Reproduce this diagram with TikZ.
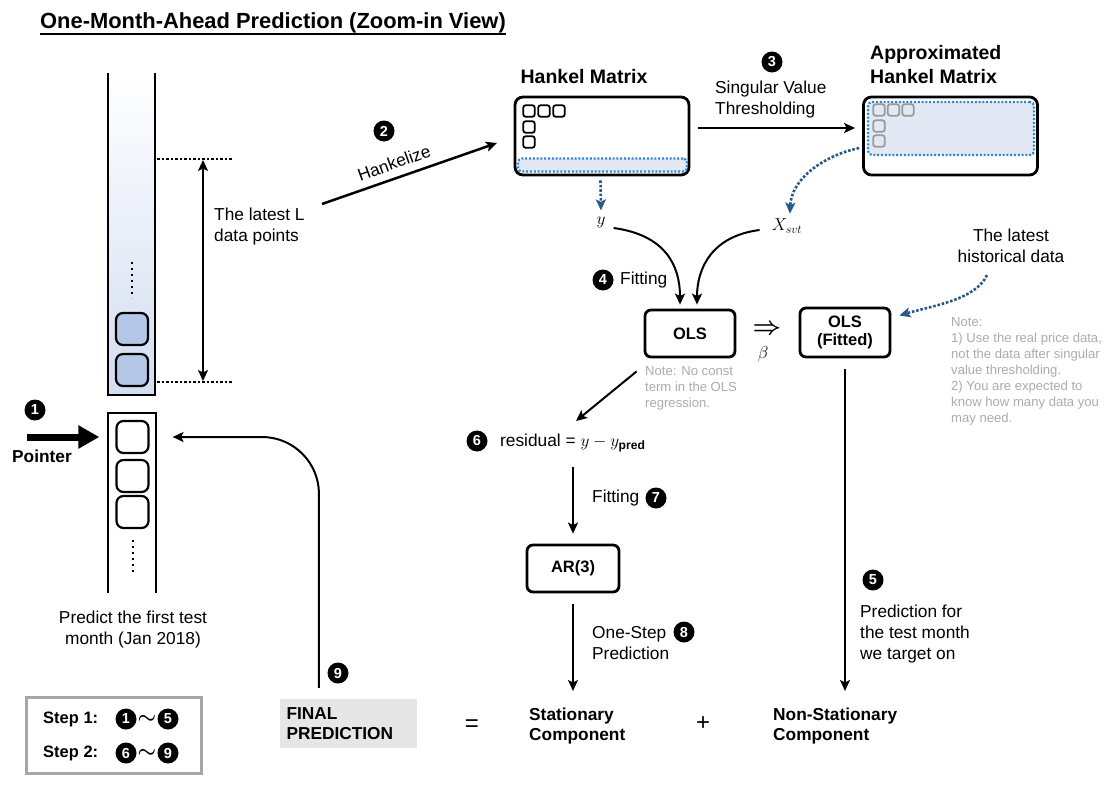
\documentclass[tikz,border=0pt]{standalone}
\usepackage{fontspec}
\setmainfont{Liberation Sans}
\usepackage{amsmath}
\usetikzlibrary{positioning}
\usetikzlibrary{calc}
\usetikzlibrary{arrows.meta}

\definecolor{cellblue}{HTML}{B4C7E7}
\definecolor{paleblue}{HTML}{E2E9F5}
\definecolor{colblue}{HTML}{D3DDF1}
\definecolor{dotblue}{HTML}{3584D0}
\definecolor{flowblue}{HTML}{2A5886}
\definecolor{notegray}{HTML}{ABABAB}
\definecolor{entrygray}{HTML}{9A9A9A}
\definecolor{finalgray}{HTML}{E6E6E6}
\definecolor{stepgray}{HTML}{A6A6A6}

\tikzset{
  num/.style={circle, fill=black, text=white, inner sep=0pt, minimum size=21pt,
    font=\fontsize{14.5}{14.5}\selectfont\bfseries},
  txt/.style={inner sep=0pt, font=\fontsize{17.3}{21}\selectfont},
  bold/.style={inner sep=0pt, font=\fontsize{17.3}{20}\selectfont\bfseries},
  heading/.style={inner sep=0pt, font=\fontsize{19.5}{24}\selectfont\bfseries},
  note/.style={inner sep=0pt, align=left, text=notegray, font=\fontsize{13.1}{16}\selectfont},
  hankelbox/.style={draw, line width=2.8pt, rounded corners=8pt, minimum width=174pt, minimum height=78pt},
  model/.style={draw, line width=2.8pt, rounded corners=6pt, minimum width=90pt, minimum height=47pt,
    align=center, font=\fontsize{16.5}{18}\selectfont\bfseries},
  cell/.style={draw, line width=2.2pt, rounded corners=7pt, minimum size=32pt, inner sep=0pt},
  hcell/.style={draw, line width=1.8pt, rounded corners=2.5pt, minimum size=11.5pt, inner sep=0pt},
  band/.style={draw=dotblue, fill=paleblue, line width=2.2pt, dash pattern=on 2pt off 1.8pt, rounded corners=4pt},
  flow/.style={line width=2pt, -{Stealth[length=11pt, width=10pt, inset=2.5pt]}},
  blueflow/.style={flowblue, line width=2.6pt, dash pattern=on 2.6pt off 1.8pt,
    -{Stealth[length=11pt, width=10pt, inset=2.5pt]}},
  tilde/.style={inner sep=0pt, font=\fontsize{22}{22}\selectfont},
}

\begin{document}
\begin{tikzpicture}[x=1pt, y=-1pt]
  \useasboundingbox (0,0) rectangle (1111,790);

  % Title
  \node[anchor=base west, inner sep=0pt, font=\fontsize{21.9}{24}\selectfont\bfseries] (title) at (40,28)
    {One-Month-Ahead Prediction (Zoom-in View)};
  \draw[line width=1.8pt] ($(title.base west)+(0,6)$) -- ($(title.base east)+(0,6)$);

  % Latest L points
  \shade[top color=white, bottom color=colblue] (108,73) rectangle (155,395);
  \draw[line width=2.8pt] (108,73) -- (108,395) -- (155,395) -- (155,73);
  \node[cell, fill=cellblue] (w1) at (132,329) {};
  \node[cell, fill=cellblue] (w2) at (132,370) {};
  \draw[line width=2pt, dash pattern=on 2pt off 4pt] (132,262) -- (132,298);

  \coordinate (ltop) at (157,159);
  \coordinate (lbot) at (157,382);
  \draw[line width=2.2pt, dash pattern=on 2.5pt off 2pt] (ltop) -- ++(75,0);
  \draw[line width=2.2pt, dash pattern=on 2.5pt off 2pt] (lbot) -- ++(75,0);
  \coordinate (spantop) at (203,160);
  \coordinate (spanbot) at (203,381);
  \draw[line width=2pt, {Stealth[length=11pt, width=10pt, inset=2.5pt]}-{Stealth[length=11pt, width=10pt, inset=2.5pt]}]
    (spantop) -- (spanbot);
  \node[txt, anchor=north west, align=left] (latest) at (214,208) {The latest L\\data points};

  % Test column
  \draw[line width=2.8pt] (108,593) -- (108,413) -- (156,413) -- (156,593);
  \node[cell] (t1) at (132.5,437) {};
  \node[cell] (t2) at (132.5,476) {};
  \node[cell] (t3) at (132.5,512) {};
  \draw[line width=2pt, dash pattern=on 2pt off 4pt] (133,540) -- (133,575);
  \node[txt, anchor=north, align=center] (predfirst) at (133,611) {Predict the first test\\month (Jan 2018)};

  % Pointer
  \node[num] (n1) at (35,410) {1};
  \coordinate (ptrtail) at (27,437);
  \draw[line width=7pt, -{Triangle[length=21pt, width=22pt]}] (ptrtail) -- ($(t1.west)+(-16,0)$);
  \node[bold, anchor=north west] (ptr) at (12,450) {Pointer};

  % Hankelize
  \coordinate (hkfrom) at (322,204);
  \coordinate (hkto) at (497,143);
  \draw[flow, line width=2.5pt] (hkfrom) -- (hkto);
  \node[num] (n2) at (384,131) {2};
  \node[txt, rotate=20] (hklabel) at (394,163) {Hankelize};

  % Hankel matrix
  \node[heading] (hanktitle) at (584,77) {Hankel Matrix};
  \node[hankelbox] (hankel) at (602,136) {};
  \node[band, minimum width=169pt, minimum height=13pt] (hrow) at (602.5,165) {};
  \foreach \i in {0,1,2}
    \node[hcell] (hr\i) at ({529+15*\i},111) {};
  \node[hcell] (hc1) at (529,127) {};
  \node[hcell] (hc2) at (529,142) {};

  % Singular value thresholding
  \node[hankelbox] (approx) at (950.5,136) {};
  \draw[flow, line width=2.5pt] ($(hankel.east)+(8,-8)$) -- ($(approx.west)+(-7,-8)$);
  \node[num] (n3) at (772,62) {3};
  \node[txt, anchor=north west, align=left] (svt) at (715,81) {Singular Value\\Thresholding};

  % Approximated Hankel matrix
  \node[heading, anchor=north west, align=left] (apptitle) at (870,45) {Approximated\\Hankel Matrix};
  \node[band, minimum width=166pt, minimum height=53pt] (arow) at (951,128.5) {};
  \foreach \i in {0,1,2}
    \node[hcell, draw=entrygray] (ar\i) at ({879+14.5*\i},110) {};
  \node[hcell, draw=entrygray] (ac1) at (879,126) {};
  \node[hcell, draw=entrygray] (ac2) at (879,141) {};

  % Regression inputs
  \node[inner sep=0pt, font=\fontsize{18}{20}\selectfont] (ynode) at (601,222) {$y$};
  \node[inner sep=0pt, font=\fontsize{18}{20}\selectfont] (xsvt) at (787,226) {$X_{svt}$};
  \draw[blueflow] ($(hankel.south)+(-1.5,4)$) -- ($(ynode.north)+(0,-6)$);
  \draw[blueflow] ($(approx.west)+(-3,12)$) .. controls (822,156) and (791,180) .. ($(xsvt.north)+(3,-5)$);

  % OLS
  \node[model] (ols) at (690,333.5) {OLS};
  \draw[flow] ($(ynode.east)+(8,6)$) .. controls (665,235) and (680,265) .. ($(ols.north)+(-10,-4)$);
  \draw[flow] ($(xsvt.west)+(-12,4)$) .. controls (712,236) and (697,268) .. ($(ols.north)+(7,-4)$);
  \node[num] (n4) at (603,280) {4};
  \node[txt, anchor=west] (fit4) at (620,280) {Fitting};
  \node[note, anchor=north west] (olsnote) at (645,366) {Note: No const\\term in the OLS\\regression.};

  \node[model, minimum height=49pt] (fitted) at (845,332.5) {OLS\\(Fitted)};
  \node[inner sep=0pt, font=\fontsize{27}{27}\selectfont] (implies) at (767,330) {$\boldsymbol{\Rightarrow}$};
  \node[inner sep=0pt, font=\fontsize{18}{20}\selectfont] (beta) at (763,354) {$\beta$};

  % Latest historical data
  \node[txt, anchor=north, align=center] (histdata) at (1011,229) {The latest\\historical data};
  \draw[blueflow] ($(histdata.south)+(-24,12)$) .. controls (975,300) and (935,305) .. ($(fitted.east)+(8,-17)$);
  \node[note, anchor=north west] (datanote) at (951,317)
    {Note:\\1) Use the real price data,\\not the data after singular\\value thresholding.\\2) You are expected to\\know how many data you\\may need.};

  % Residual and AR(3)
  \node[num] (n6) at (477,441) {6};
  \node[txt, anchor=west] (resid) at (500,443) {residual = $y - y_{\mathbf{pred}}$};
  \draw[flow] ($(ols.south west)+(-7,13)$) -- (576,421);
  \node[model, minimum width=92pt] (ar) at (573,568.5) {AR(3)};
  \coordinate (fitstart) at (573,467);
  \draw[flow] (fitstart) -- ($(ar.north)+(0,-10)$);
  \node[txt, anchor=west] (fit7) at (592,498) {Fitting};
  \node[num] (n7) at (656,498) {7};

  % Final prediction
  \node[fill=finalgray, bold, align=left, text width=124pt, inner xsep=6.5pt, minimum height=49pt] (final) at (348.5,723.5)
    {FINAL\\PREDICTION};
  \node[inner sep=0pt, font=\fontsize{24}{24}\selectfont] (eq) at (472,726) {=};
  \node[bold, anchor=north west, align=left] (stat) at (529,708) {Stationary\\Component};
  \node[inner sep=0pt, font=\fontsize{24}{24}\selectfont] (plus) at (703,724) {+};
  \node[bold, anchor=north west, align=left] (nonstat) at (773,708) {Non-Stationary\\Component};

  \draw[flow] ($(ar.south)+(0,11)$) -- ($(ar.south |- stat.north)+(0,-17)$);
  \node[txt, anchor=north west, align=left] (onestep) at (592,626) {One-Step\\Prediction};
  \node[num] (n8) at (684,632) {8};

  \draw[flow] ($(fitted.south)+(0,11)$) -- ($(fitted.south |- nonstat.north)+(0,-17)$);
  \node[num] (n5) at (873,580) {5};
  \node[txt, anchor=north west, align=left] (target) at (860,605) {Prediction for\\the test month\\we target on};

  % Roll the pointer forward
  \coordinate (loopcorner) at (319,437);
  \draw[flow, rounded corners=57pt] ($(final.north west)+(39,-11)$) -- (loopcorner) -- ($(t1.east)+(23,0)$);
  \node[num] (n9) at (338,673) {9};

  % Steps
  \node[draw=stepgray, line width=3pt, minimum width=175pt, minimum height=76pt] (stepbox) at (114,735) {};
  \node[bold, anchor=west, font=\fontsize{16.5}{20}\selectfont\bfseries] (s1) at (43,719) {Step 1:};
  \node[num] (s1a) at (126,719) {1};
  \node[tilde] (s1t) at (147,719) {$\boldsymbol{\sim}$};
  \node[num] (s1b) at (168,719) {5};
  \node[bold, anchor=west, font=\fontsize{16.5}{20}\selectfont\bfseries] (s2) at (43,753) {Step 2:};
  \node[num] (s2a) at (126,753) {6};
  \node[tilde] (s2t) at (147,753) {$\boldsymbol{\sim}$};
  \node[num] (s2b) at (168,753) {9};

\end{tikzpicture}
\end{document}
